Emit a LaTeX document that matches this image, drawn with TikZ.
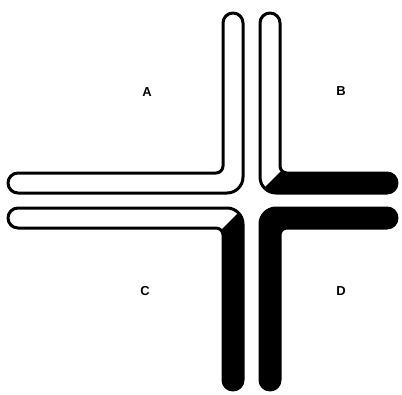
\documentclass[tikz,border=0pt]{standalone}
\usepackage{fontspec}
\setmainfont{Liberation Sans}
\begin{document}
\begin{tikzpicture}[x=1pt,y=-1pt,
  tubeline/.style={draw=black,line width=3pt,line join=round},
  lbl/.style={font=\fontsize{13}{15}\selectfont\bfseries,inner sep=0pt}]
\useasboundingbox[fill=white] (0,0) rectangle (402,394);
\def\tubeA{(223,23) arc[start angle=180,end angle=360,radius=10] -- (243,177) arc[start angle=0,end angle=90,radius=16] -- (18,193) arc[start angle=90,end angle=270,radius=10] -- (216,173) arc[start angle=90,end angle=0,radius=7] -- cycle}
\def\tubeB{(260,23) arc[start angle=180,end angle=360,radius=10] -- (280,166) arc[start angle=180,end angle=90,radius=7] -- (387,173) arc[start angle=270,end angle=450,radius=10] -- (276,193) arc[start angle=90,end angle=180,radius=16] -- cycle}
\def\tubeC{(223,380) arc[start angle=180,end angle=0,radius=10] -- (243,224) arc[start angle=0,end angle=-90,radius=16] -- (18,208) arc[start angle=270,end angle=90,radius=10] -- (216,228) arc[start angle=270,end angle=360,radius=7] -- cycle}
\def\tubeD{(260,380) arc[start angle=180,end angle=0,radius=10] -- (280,235) arc[start angle=180,end angle=270,radius=7] -- (387,228) arc[start angle=90,end angle=-90,radius=10] -- (276,208) arc[start angle=270,end angle=180,radius=16] -- cycle}
% white interiors
\fill[white] \tubeA;
\fill[white] \tubeB;
\fill[white] \tubeC;
\fill[black] \tubeD;
% black parts
\begin{scope}
  \clip \tubeB;
  \fill[black] (250,202) -- (310,142) -- (410,142) -- (410,202) -- cycle;
\end{scope}
\begin{scope}
  \clip \tubeC;
  \fill[black] (200,251) -- (260,191) -- (260,400) -- (200,400) -- cycle;
\end{scope}
% outlines
\path[tubeline] \tubeA;
\path[tubeline] \tubeB;
\path[tubeline] \tubeC;
\path[tubeline] \tubeD;
% labels
\node[lbl] (la) at (147,92) {A};
\node[lbl] (lb) at (341,91) {B};
\node[lbl] (lc) at (145,291) {C};
\node[lbl] (ld) at (341,291) {D};
\end{tikzpicture}
\end{document}
